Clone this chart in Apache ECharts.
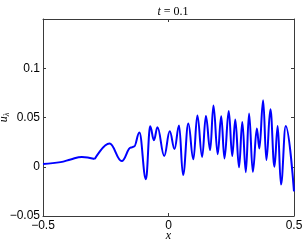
<!DOCTYPE html>
<html><head><meta charset="utf-8">
<script src="https://cdn.jsdelivr.net/npm/echarts@6/dist/echarts.min.js"></script>
<style>html,body{margin:0;padding:0;background:#fff}#c{width:305px;height:240px}</style>
</head><body><div id="c"></div>
<script>
const xValues = [-0.5, -0.43, -0.39, -0.345, -0.294, -0.235, -0.186, -0.150, -0.137, -0.116, -0.090, -0.073, -0.058, -0.044, -0.017, 0.005, 0.024, 0.042, 0.058, 0.079, 0.099, 0.115, 0.134, 0.149, 0.166, 0.179, 0.196, 0.210, 0.223, 0.240, 0.254, 0.266, 0.281, 0.294, 0.308, 0.321, 0.336, 0.352, 0.362, 0.377, 0.390, 0.406, 0.422, 0.435, 0.448, 0.467, 0.500];
const uValues = [0.0027, 0.0047, 0.0074, 0.0100, 0.0078, 0.0236, 0.0058, 0.0195, 0.0205, 0.0347, -0.0127, 0.041, 0.027, 0.040, 0.011, 0.036, 0.018, 0.042, -0.0084, 0.0438, 0.0075, 0.052, 0.010, 0.0515, 0.0169, 0.0623, 0.0128, 0.0512, 0.0085, 0.0566, 0.0108, 0.048, -0.0006, 0.0455, -0.0055, 0.054, -0.0052, 0.0388, 0.0186, 0.0674, 0.0068, 0.0583, 0.0, 0.0414, -0.018, 0.0414, -0.025];
const xTicks = [-0.5, 0, 0.5];
const yTicks = [-0.05, 0, 0.05, 0.1];
// index where the slow ramp ends and the oscillating part begins
const rampEnd = 4;

const fmt = v => {
  const r = Math.round(v * 1000) / 1000;
  return String(r).replace('-', '\u2212');
};
const axisCol = '#3a3a3a';
const lblFont = { fontFamily: 'Liberation Sans', fontSize: 12, color: '#000' };
const chart = echarts.init(document.getElementById('c'), null, { renderer: 'canvas' });
const data = xValues.map((x, i) => [x, uValues[i]]);
const lineStyle = { color: '#0000ff', width: 2 };
chart.setOption({
  animation: false,
  title: {
    text: '{i|t} = 0.1', left: 168, top: 1, textAlign: 'center',
    textStyle: { fontFamily: 'Liberation Serif', fontSize: 12, fontWeight: 'normal', color: '#000',
      rich: { i: { fontFamily: 'Liberation Serif', fontStyle: 'italic', fontSize: 12 } } }
  },
  grid: { left: 43, right: 11, top: 19, bottom: 24, containLabel: false, outerBoundsMode: 'none' },
  xAxis: [{
    type: 'value', min: -0.5, max: 0.5, interval: 0.5, position: 'bottom',
    axisLine: { show: true, onZero: false, lineStyle: { color: axisCol, width: 1 } },
    axisTick: { show: true, inside: true, length: 3, lineStyle: { color: axisCol } },
    axisLabel: Object.assign({ formatter: v => xTicks.some(t => Math.abs(t - v) < 1e-9) ? fmt(v) : '', margin: 4 }, lblFont),
    splitLine: { show: false },
    name: '{i|x}', nameLocation: 'middle', nameGap: 14, nameMoveOverlap: false,
    nameTextStyle: { rich: { i: { fontFamily: 'Liberation Serif', fontStyle: 'italic', fontSize: 12, color: '#000' } } }
  }, {
    type: 'value', min: -0.5, max: 0.5, interval: 0.5, position: 'top',
    axisLine: { show: true, onZero: false, lineStyle: { color: axisCol, width: 1 } },
    axisTick: { show: true, inside: true, length: 3, lineStyle: { color: axisCol } },
    axisLabel: { show: false }, splitLine: { show: false }
  }],
  yAxis: [{
    type: 'value', min: -0.05, max: 0.15, interval: 0.05, position: 'left',
    axisLine: { show: true, onZero: false, lineStyle: { color: axisCol, width: 1 } },
    axisTick: { show: true, inside: true, length: 3, lineStyle: { color: axisCol } },
    axisLabel: Object.assign({ formatter: v => yTicks.some(t => Math.abs(t - v) < 1e-9) ? fmt(v) : '', margin: 3 }, lblFont),
    splitLine: { show: false },
    name: '{u|u}{s|\u03bb}', nameLocation: 'middle', nameGap: 32, nameRotate: 90, nameMoveOverlap: false,
    nameTextStyle: { rich: {
      u: { fontFamily: 'Liberation Serif', fontStyle: 'italic', fontSize: 12, color: '#000' },
      s: { fontFamily: 'Liberation Serif', fontStyle: 'italic', fontSize: 8, color: '#000', padding: [6, 0, 0, 0] }
    } }
  }, {
    type: 'value', min: -0.05, max: 0.15, interval: 0.05, position: 'right',
    axisLine: { show: true, onZero: false, lineStyle: { color: axisCol, width: 1 } },
    axisTick: { show: true, inside: true, length: 3, lineStyle: { color: axisCol } },
    axisLabel: { show: false }, splitLine: { show: false }
  }],
  series: [{
    type: 'line', data: data.slice(0, rampEnd + 1), xAxisIndex: 0, yAxisIndex: 0,
    showSymbol: false, smooth: 0.4, lineStyle: lineStyle
  }, {
    type: 'line', data: data.slice(rampEnd), xAxisIndex: 0, yAxisIndex: 0,
    showSymbol: false, smooth: 0.4, smoothMonotone: 'x', lineStyle: lineStyle
  }]
});
</script></body></html>
